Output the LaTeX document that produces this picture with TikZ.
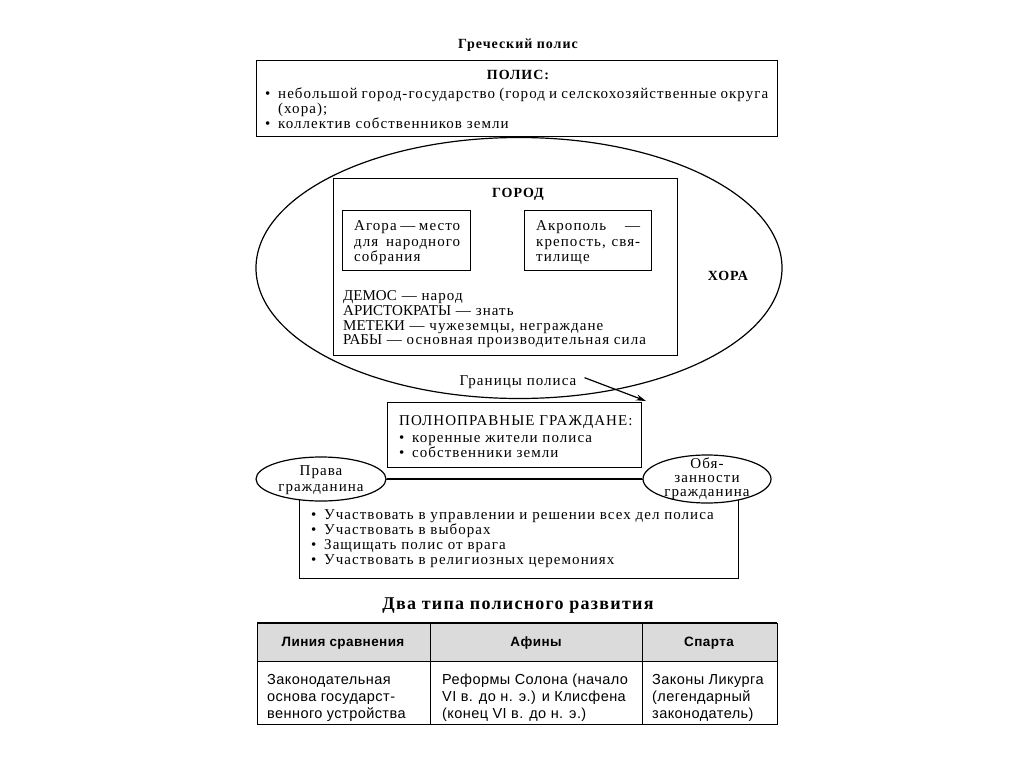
\documentclass[tikz,border=0pt]{standalone}
\usepackage{fontspec}
\setmainfont{Liberation Serif}
\newfontfamily\spfont[LetterSpace=7]{Liberation Serif}
\newfontfamily\tabfont[LetterSpace=3]{Liberation Sans}
\usetikzlibrary{shapes.geometric,arrows.meta}
\begin{document}
\begin{tikzpicture}[x=1pt,y=-1pt,
  box/.style={draw, line width=1.2pt, inner sep=0pt, anchor=north west, fill=white},
  oval/.style={draw, line width=1.2pt, ellipse, inner sep=0pt, fill=white},
  t/.style={anchor=base west, inner sep=0pt, font=\spfont\fontsize{15}{17}\selectfont},
  tc/.style={t, anchor=base},
  tb/.style={t, anchor=base, font=\spfont\bfseries\fontsize{14}{17}\selectfont},
  tab/.style={anchor=base west, inner sep=0pt, font=\tabfont\fontsize{14.5}{17}\selectfont},
  tabh/.style={anchor=base, inner sep=0pt, font=\tabfont\bfseries\fontsize{13.5}{17}\selectfont},
  link/.style={line width=1.2pt}]
\useasboundingbox (0,0) rectangle (1024,767);
\fill[white] (0,0) rectangle (1024,767);

% title
\node[tb] (title) at (518,49) {Греческий полис};

% top box
\node[box, minimum width=521pt, minimum height=76pt] (polis) at (256,60) {};
\node[tb] (polist) at (518,80) {ПОЛИС:};
\node[t] (b1) at (265,99) {\textbullet};
\node[t] (l1) at (278,99) {\makebox[490pt][s]{небольшой город-государство (город и селскохозяйственные округа}};
\node[t] (l2) at (278,114) {(хора);};
\node[t] (b2) at (265,129) {\textbullet};
\node[t] (l3) at (278,129) {коллектив собственников земли};

% big ellipse
\node[oval, fill=none, minimum width=526pt, minimum height=261pt] (hora) at (519,268) {};
\node[tb] (horat) at (728,280) {ХОРА};

% city rectangle
\node[box, minimum width=344pt, minimum height=177pt] (gorod) at (333,178) {};
\node[tb] (gorodt) at (518,198) {ГОРОД};

\node[box, minimum width=128pt, minimum height=60pt] (agora) at (342,210) {};
\node[t] (a1) at (354,231) {\makebox[106pt][s]{Агора — место}};
\node[t] (a2) at (354,246) {\makebox[106pt][s]{для народного}};
\node[t] (a3) at (354,261) {собрания};

\node[box, minimum width=127pt, minimum height=60pt] (akro) at (524,210) {};
\node[t] (k1) at (536,231) {\makebox[104pt][s]{Акрополь —}};
\node[t] (k2) at (536,246) {\makebox[104pt][s]{крепость, свя-}};
\node[t] (k3) at (536,261) {тилище};

\node[t] (d1) at (343,300) {{\fontspec{Liberation Serif}ДЕМОС} — народ};
\node[t] (d2) at (343,315) {{\fontspec{Liberation Serif}АРИСТОКРАТЫ} — знать};
\node[t] (d3) at (343,330) {{\fontspec{Liberation Serif}МЕТЕКИ} — чужеземцы, неграждане};
\node[t] (d4) at (343,344) {{\fontspec{Liberation Serif}РАБЫ} — основная производительная сила};

% borders label and arrow
\node[tc] (gran) at (518,385) {Границы полиса};
\coordinate (gtip) at (646,401);
\draw[link, -{Stealth[length=10pt,width=6pt]}] ([xshift=8pt,yshift=4pt]gran.east) -- (gtip);

% full citizens box
\node[box, minimum width=254pt, minimum height=65pt] (full) at (387,402) {};
\node[t] (f0) at (399,425) {ПОЛНОПРАВНЫЕ ГРАЖДАНЕ:};
\node[t] (fb1) at (399,442) {\textbullet};
\node[t] (f1) at (412,442) {коренные жители полиса};
\node[t] (fb2) at (399,457) {\textbullet};
\node[t] (f2) at (412,457) {собственники земли};

% rights / duties box
\node[box, minimum width=439pt, minimum height=99pt] (rights) at (299,479) {};
\node[oval, minimum width=130pt, minimum height=44pt] (prava) at (321,479) {};
\node[oval, minimum width=128pt, minimum height=48pt] (obyaz) at (707,479) {};
\draw[link] (prava) -- (obyaz);
\node[tc] (p1) at (321,475) {Права};
\node[tc] (p2) at (321,491) {гражданина};
\node[tc] (o1) at (707,468) {Обя-};
\node[tc] (o2) at (707,482) {занности};
\node[tc] (o3) at (707,496) {гражданина};

\node[t] (rb1) at (311,519) {\textbullet};
\node[t] (r1) at (324,519) {Участвовать в управлении и решении всех дел полиса};
\node[t] (rb2) at (311,534) {\textbullet};
\node[t] (r2) at (324,534) {Участвовать в выборах};
\node[t] (rb3) at (311,549) {\textbullet};
\node[t] (r3) at (324,549) {Защищать полис от врага};
\node[t] (rb4) at (311,564) {\textbullet};
\node[t] (r4) at (324,564) {Участвовать в религиозных церемониях};

% second title
\node[tb, font=\spfont\bfseries\fontsize{18}{21}\selectfont] (title2) at (518,609) {Два типа полисного развития};

% table
\fill[black!14] (257,623) rectangle (777,661);
\draw[line width=0.9pt] (257,623) rectangle (777,724);
\draw[line width=1.5pt] (257,623) -- (777,623);
\draw[line width=0.9pt] (257,661) -- (777,661);
\draw[line width=0.9pt] (430,623) -- (430,724);
\draw[line width=0.9pt] (642,623) -- (642,724);

\node[tabh] (h1) at (343,646) {Линия сравнения};
\node[tabh] (h2) at (536,646) {Афины};
\node[tabh] (h3) at (709,646) {Спарта};

\node[tab] (c11) at (267,684) {Законодательная};
\node[tab] (c12) at (267,701) {основа государст-};
\node[tab] (c13) at (267,718) {венного устройства};
\node[tab] (c21) at (442,684) {Реформы Солона (начало};
\node[tab] (c22) at (442,701) {VI в. до н. э.) и Клисфена};
\node[tab] (c23) at (442,718) {(конец VI в. до н. э.)};
\node[tab] (c31) at (652,684) {Законы Ликурга};
\node[tab] (c32) at (652,701) {(легендарный};
\node[tab] (c33) at (652,718) {законодатель)};
\end{tikzpicture}
\end{document}
